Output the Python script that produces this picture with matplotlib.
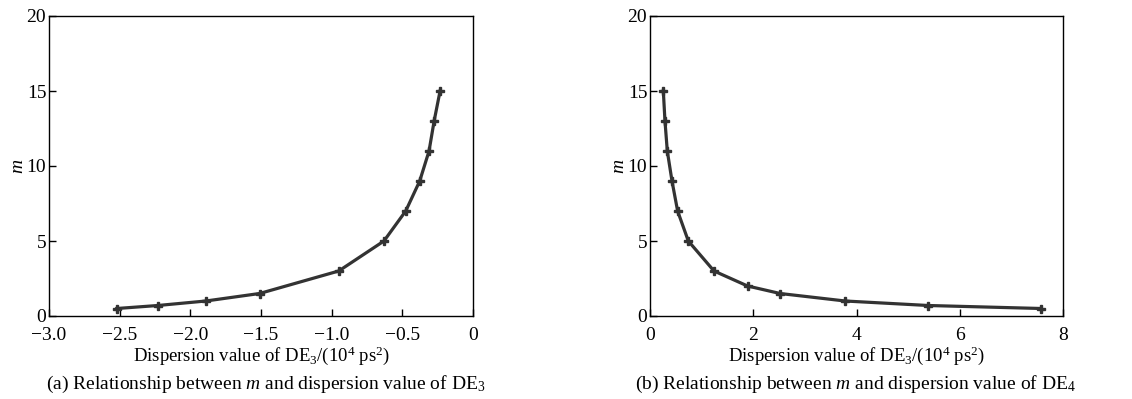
import numpy as np
import matplotlib.pyplot as plt

plt.rcParams['font.family'] = ['Liberation Serif', 'DejaVu Serif']
plt.rcParams['mathtext.fontset'] = 'custom'
plt.rcParams['mathtext.rm'] = 'Liberation Serif'
plt.rcParams['mathtext.it'] = 'Liberation Serif:italic'
plt.rcParams['font.size'] = 14

# (a) DE3 dispersion vs m
de3_x = [-2.52, -2.23, -1.89, -1.51, -0.95, -0.63, -0.476, -0.377, -0.311, -0.275, -0.233]
de3_m = [0.5, 0.7, 1.0, 1.5, 3.0, 5.0, 7.0, 9.0, 11.0, 13.0, 15.0]

# (b) DE4 dispersion vs m
de4_x = [0.258, 0.29, 0.335, 0.426, 0.535, 0.742, 1.24, 1.89, 2.52, 3.78, 5.39, 7.58]
de4_m = [15.0, 13.0, 11.0, 9.0, 7.0, 5.0, 3.0, 2.0, 1.5, 1.0, 0.7, 0.5]

xlabel = 'Dispersion value of DE$_3$/(10$^4$ ps$^2$)'
captions = ['(a) Relationship between $m$ and dispersion value of DE$_3$',
            '(b) Relationship between $m$ and dispersion value of DE$_4$']

fig = plt.figure(figsize=(11.32, 3.99), dpi=100)
W, H = 1132, 399
ax1 = fig.add_axes([49 / W, 1 - 316 / H, 424 / W, 300 / H])
ax2 = fig.add_axes([650 / W, 1 - 316 / H, 413 / W, 300 / H])

col = '#333333'
for ax, x, y in [(ax1, de3_x, de3_m), (ax2, de4_x, de4_m)]:
    ax.plot(x, y, color=col, lw=2.3, marker='P', ms=6, mec=col, mfc=col)
    ax.set_ylim(0, 20)
    ax.set_yticks([0, 5, 10, 15, 20])
    ax.tick_params(direction='in', length=5, width=1, top=False, right=False,
                   labelsize=14)
    ax.tick_params(axis='x', pad=8)
    ax.tick_params(axis='y', pad=2)
    ax.set_xlabel(xlabel, fontsize=13.5, labelpad=0)
    ax.set_ylabel('$m$', fontsize=14, labelpad=0)
    for s in ax.spines.values():
        s.set_linewidth(1)

ax1.set_xlim(-3, 0)
ax1.set_xticks([-3.0, -2.5, -2.0, -1.5, -1.0, -0.5, 0])
ax1.set_xticklabels(['\u22123.0', '\u22122.5', '\u22122.0', '\u22121.5', '\u22121.0', '\u22120.5', '0'])

ax2.set_xlim(0, 8)
ax2.set_xticks([0, 2, 4, 6, 8])

fig.text(266 / W, 1 - 384 / H, captions[0], ha='center', va='center', fontsize=14)
fig.text(855 / W, 1 - 384 / H, captions[1], ha='center', va='center', fontsize=14)

fig.savefig('out.png', dpi=100)
